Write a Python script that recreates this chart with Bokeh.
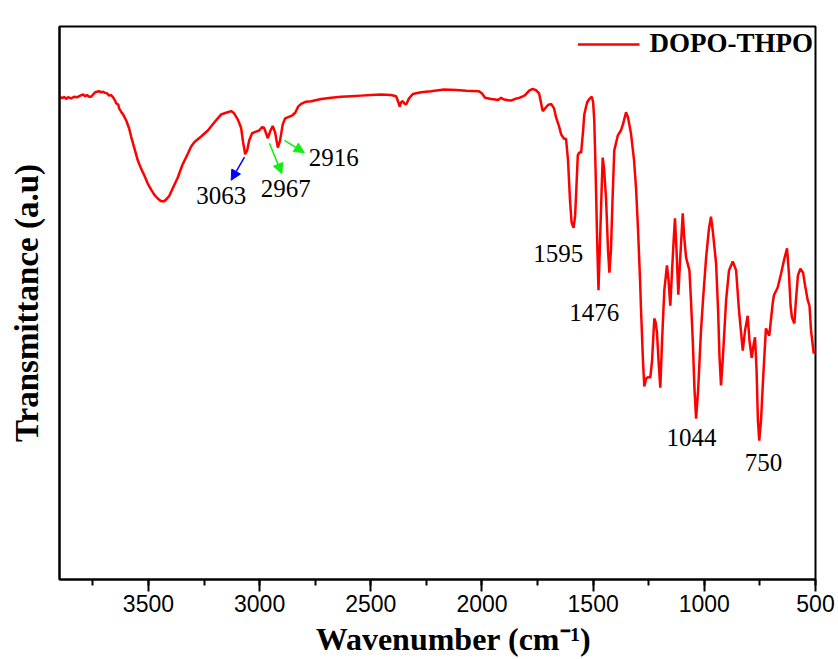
from bokeh.plotting import figure
from bokeh.models import (Range1d, SingleIntervalTicker, FixedTicker, Arrow,
                          NormalHead, ColumnDataSource)
from bokeh.core.properties import value
from bokeh.embed import file_html
from bokeh.resources import INLINE

series_name = "DOPO-THPO"

wavenumber = [
    3897, 3888, 3879, 3870, 3861, 3848, 3834, 3821, 3807, 3794, 3785, 3776, 3767, 3758,
    3749, 3740, 3731, 3722, 3713, 3704, 3695, 3686, 3677, 3668, 3659, 3650, 3645, 3636,
    3632, 3623, 3614, 3600, 3587, 3578, 3564, 3548, 3533, 3519, 3503, 3488, 3474, 3458,
    3443, 3429, 3416, 3406, 3389, 3368, 3348, 3323, 3308, 3293, 3263, 3233, 3205, 3173,
    3151, 3128, 3115, 3101, 3092, 3083, 3074, 3065, 3056, 3047, 3034, 3016, 3002, 2989,
    2980, 2963, 2953, 2941, 2930, 2918, 2908, 2896, 2885, 2872, 2854, 2840, 2827, 2813,
    2791, 2768, 2723, 2678, 2634, 2589, 2544, 2499, 2454, 2409, 2386, 2377, 2370, 2364,
    2356, 2350, 2341, 2328, 2311, 2274, 2229, 2170, 2116, 2071, 2013, 2000, 1986, 1959,
    1941, 1928, 1914, 1901, 1887, 1869, 1851, 1833, 1820, 1806, 1788, 1772, 1757, 1743,
    1727, 1716, 1703, 1689, 1676, 1667, 1653, 1644, 1631, 1622, 1613, 1604, 1597, 1588,
    1581, 1575, 1569, 1563, 1554, 1545, 1540, 1527, 1517, 1506, 1500, 1495, 1489, 1482,
    1476, 1469, 1462, 1457, 1451, 1442, 1433, 1427, 1420, 1413, 1405, 1389, 1375, 1366,
    1352, 1343, 1330, 1316, 1307, 1298, 1289, 1285, 1276, 1270, 1262, 1254, 1243, 1235,
    1225, 1219, 1213, 1206, 1198, 1190, 1180, 1168, 1161, 1153, 1145, 1138, 1132, 1125,
    1117, 1109, 1097, 1091, 1082, 1067, 1060, 1052, 1044, 1037, 1028, 1015, 1006, 992,
    979, 970, 961, 947, 938, 932, 925, 916, 902, 889, 872, 857, 844, 827,
    817, 805, 797, 787, 779, 772, 765, 759, 753, 745, 736, 723, 708, 692,
    687, 670, 655, 642, 628, 619, 612, 606, 595, 588, 579, 568, 556, 547,
    535, 527, 520, 508, 500,
]

transmittance = [
    87.3, 87.0, 87.3, 86.9, 87.2, 87.0, 87.3, 87.2, 87.5, 87.7, 87.4, 87.6, 87.3, 87.3,
    87.7, 88.1, 88.2, 88.3, 88.1, 88.2, 88.0, 87.9, 87.5, 87.6, 87.2, 86.6, 86.1, 85.9,
    85.2, 84.6, 84.1, 83.0, 81.6, 80.1, 78.1, 75.8, 74.3, 73.1, 71.6, 70.5, 69.6, 68.9,
    68.4, 68.4, 68.9, 69.4, 70.9, 72.7, 74.9, 77.0, 78.3, 79.1, 80.1, 81.2, 82.6, 84.1,
    84.4, 84.7, 84.3, 83.4, 82.6, 81.6, 79.0, 76.9, 77.6, 79.4, 80.7, 81.0, 81.2, 81.8,
    81.7, 79.8, 81.0, 82.0, 80.8, 78.1, 79.4, 82.3, 83.4, 83.6, 83.9, 84.4, 85.5, 86.0,
    86.4, 86.5, 86.9, 87.1, 87.3, 87.4, 87.5, 87.6, 87.7, 87.6, 87.4, 86.4, 85.5, 86.3,
    86.5, 86.1, 85.9, 87.0, 87.8, 88.1, 88.3, 88.6, 88.5, 88.4, 88.3, 87.9, 87.1, 86.9,
    86.8, 86.7, 87.1, 86.8, 86.7, 86.6, 86.9, 87.1, 87.3, 87.6, 88.4, 88.7, 88.5, 87.9,
    84.7, 85.2, 85.8, 86.0, 85.2, 83.6, 81.9, 80.5, 79.7, 79.7, 75.8, 68.5, 64.6, 63.6,
    65.8, 71.2, 76.7, 77.2, 77.2, 81.2, 84.1, 86.3, 86.9, 87.3, 86.3, 83.0, 74.0, 61.3,
    52.3, 61.3, 70.3, 76.3, 74.3, 68.9, 59.5, 55.5, 59.5, 68.5, 77.6, 80.3, 81.2, 82.3,
    84.5, 83.5, 80.7, 75.8, 70.7, 63.1, 54.1, 49.2, 39.6, 34.9, 36.3, 36.6, 36.5, 39.6,
    47.2, 46.5, 44.7, 39.6, 34.7, 43.2, 52.3, 56.8, 54.1, 49.5, 55.9, 61.3, 65.3, 59.5,
    51.5, 57.7, 66.2, 62.2, 58.2, 55.9, 50.5, 43.2, 34.2, 29.1, 34.2, 45.0, 50.5, 58.2,
    63.5, 65.6, 62.7, 57.1, 48.6, 40.5, 35.1, 40.5, 50.5, 55.9, 57.5, 55.9, 48.6, 41.4,
    45.0, 47.7, 43.2, 40.1, 42.3, 43.8, 37.8, 28.8, 25.1, 28.8, 36.0, 45.4, 44.1, 50.1,
    51.4, 52.8, 55.3, 57.7, 59.9, 55.0, 49.5, 47.4, 46.3, 50.5, 55.0, 56.2, 55.5, 53.2,
    50.5, 49.5, 45.0, 40.9, 41.4,
]

peak_text = ["3063", "2967", "2916", "1595", "1476", "1044", "750"]
peak_label_wn = [3173, 2882, 2667, 1657, 1495, 1058, 734]
peak_label_t = [69.5, 70.7, 76.4, 59.0, 48.2, 25.7, 21.2]

blue_arrow_start_wn = [3068]
blue_arrow_start_t = [76.4]
blue_arrow_end_wn = [3128]
blue_arrow_end_t = [72.2]

green_arrow_start_wn = [2956, 2888]
green_arrow_start_t = [78.9, 79.4]
green_arrow_end_wn = [2900, 2799]
green_arrow_end_t = [73.4, 77.2]

x_ticks_interval = 500

p = figure(width=838, height=659, x_range=Range1d(3900, 500), y_range=Range1d(0, 100),
           output_backend="svg", toolbar_location=None,
           min_border_left=59, min_border_right=23, min_border_top=26, min_border_bottom=80)
p.background_fill_color = "white"
p.border_fill_color = "white"
p.outline_line_color = "black"
p.outline_line_width = 2
p.outline_line_alpha = 1.0
p.grid.visible = False

xa = p.xaxis[0]
xa.ticker = SingleIntervalTicker(interval=x_ticks_interval, num_minor_ticks=2)
xa.axis_line_width = 2
xa.axis_line_color = "black"
xa.major_tick_out = 12
xa.major_tick_in = 0
xa.minor_tick_out = 6
xa.minor_tick_in = 0
xa.major_tick_line_width = 2
xa.minor_tick_line_width = 2
xa.major_tick_line_color = "black"
xa.minor_tick_line_color = "black"
xa.major_label_text_font = "'Liberation Sans Narrow', 'Liberation Sans', sans-serif"
xa.major_label_text_font_size = "23px"
xa.major_label_text_color = "black"
xa.major_label_standoff = 3
xa.axis_label = "\u00a0\u00a0\u00a0\u00a0Wavenumber (cm\u207b\u00b9)"
xa.axis_label_text_font = "Liberation Serif"
xa.axis_label_text_font_style = "bold"
xa.axis_label_text_font_size = "32px"
xa.axis_label_text_color = "black"
xa.axis_label_standoff = 6

ya = p.yaxis[0]
ya.ticker = FixedTicker(ticks=[])
ya.major_label_text_font_size = "0px"
ya.major_tick_out = 0
ya.minor_tick_out = 0
ya.axis_line_width = 2
ya.axis_line_color = "black"
ya.major_label_standoff = 0
ya.axis_label = "Transmittance (a.u)"
ya.axis_label_text_font = "Liberation Serif"
ya.axis_label_text_font_style = "bold"
ya.axis_label_text_font_size = "33px"
ya.axis_label_text_color = "black"
ya.axis_label_standoff = 15

src = ColumnDataSource(dict(wn=wavenumber, t=transmittance))
p.line("wn", "t", source=src, line_color="#ff0000", line_width=2.5, legend_label=series_name)

lab_src = ColumnDataSource(dict(x=peak_label_wn, y=peak_label_t, text=peak_text))
p.text("x", "y", text="text", source=lab_src, text_align="center", text_baseline="middle",
       text_font=value("Liberation Serif"), text_font_size="25px", text_color="black")

blue_src = ColumnDataSource(dict(x0=blue_arrow_start_wn, y0=blue_arrow_start_t,
                                 x1=blue_arrow_end_wn, y1=blue_arrow_end_t))
p.add_layout(Arrow(end=NormalHead(size=10, fill_color="#0000ff", line_color="#0000ff"),
                   x_start="x0", y_start="y0", x_end="x1", y_end="y1", source=blue_src,
                   line_color="#0000ff", line_width=1.5))
green_src = ColumnDataSource(dict(x0=green_arrow_start_wn, y0=green_arrow_start_t,
                                  x1=green_arrow_end_wn, y1=green_arrow_end_t))
p.add_layout(Arrow(end=NormalHead(size=10, fill_color="#11ee11", line_color="#11ee11"),
                   x_start="x0", y_start="y0", x_end="x1", y_end="y1", source=green_src,
                   line_color="#11ee11", line_width=1.5))

lg = p.legend[0]
lg.location = "top_right"
lg.margin = 2
lg.padding = 6
lg.spacing = 0
lg.glyph_width = 62
lg.glyph_height = 20
lg.label_standoff = 10
lg.border_line_color = None
lg.background_fill_alpha = 0
lg.label_text_font = "Liberation Serif"
lg.label_text_font_style = "bold"
lg.label_text_font_size = "27px"
lg.label_text_color = "black"

open("out.html", "w").write(file_html(p, INLINE))
